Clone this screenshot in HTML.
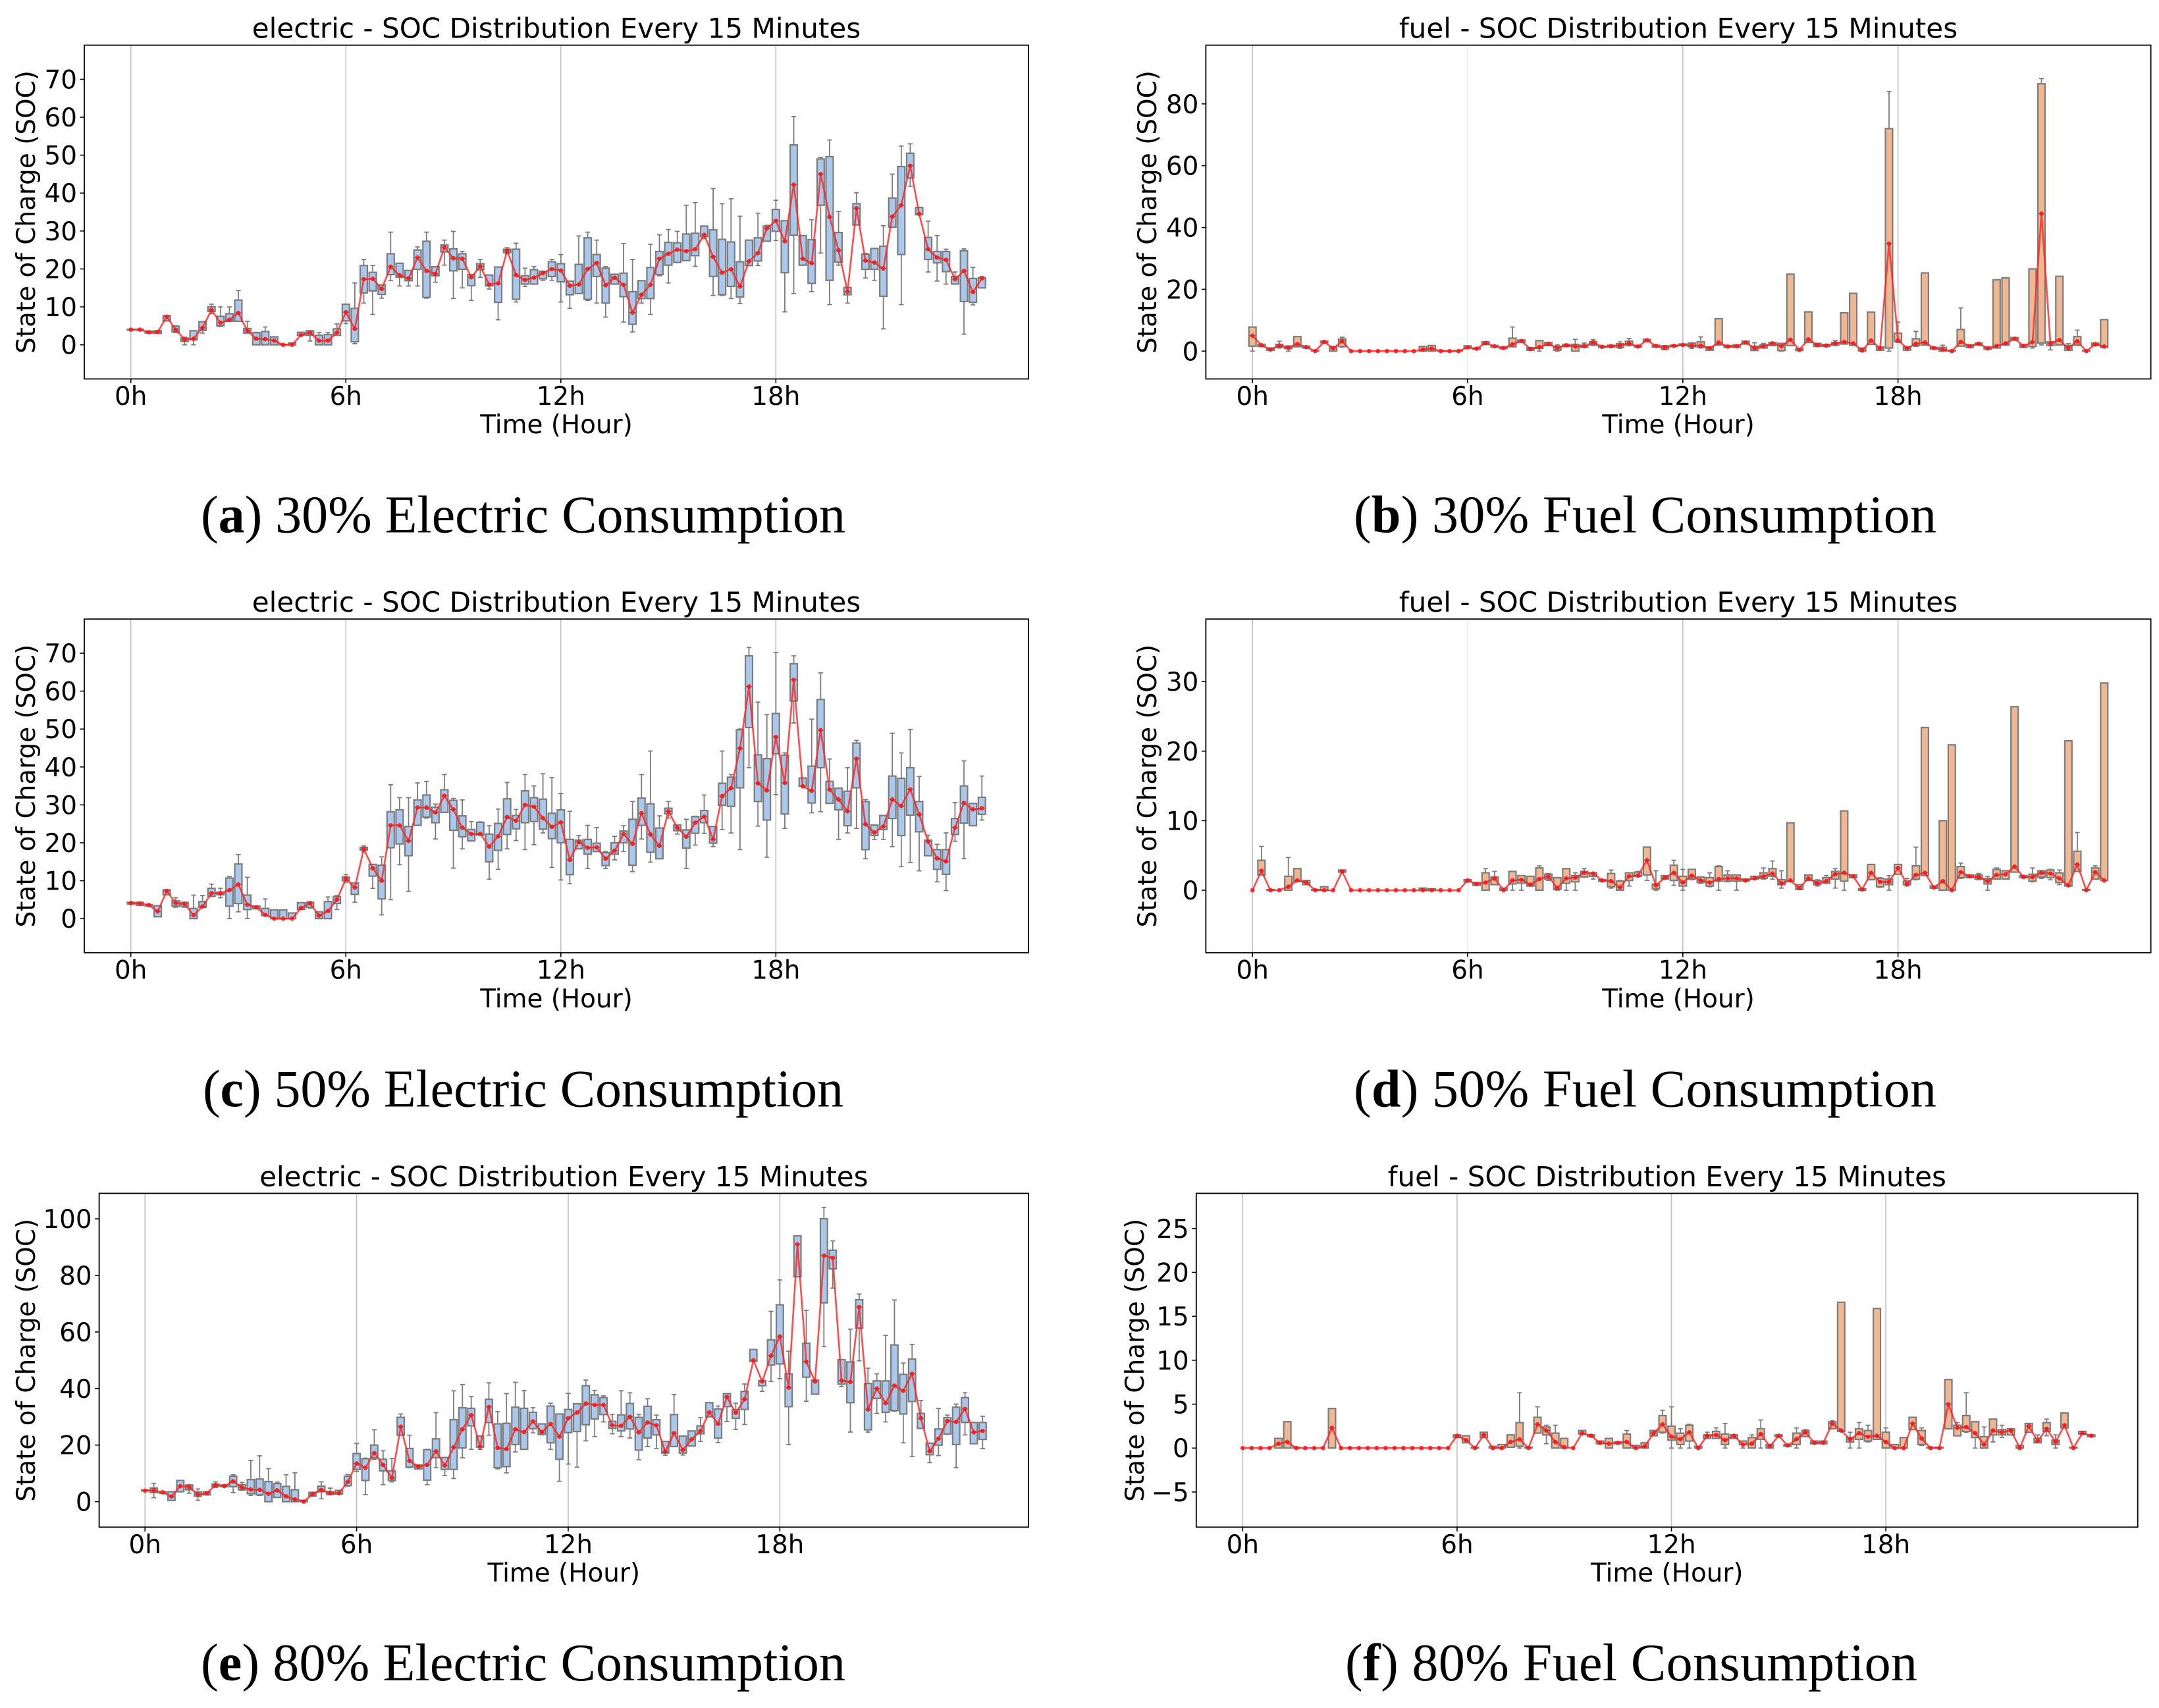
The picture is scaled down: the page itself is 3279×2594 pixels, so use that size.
<!DOCTYPE html>
<html lang="en">
<head>
<meta charset="utf-8">
<title>SOC Distribution Every 15 Minutes</title>
<style>
html,body{margin:0;padding:0;background:#fff;}
svg{display:block;}
.chart-text{font-family:"DejaVu Sans","Liberation Sans",sans-serif;font-size:38.9px;fill:#000;}
.chart-heading{font-family:"DejaVu Sans","Liberation Sans",sans-serif;font-size:42.1px;fill:#000;}
.caption{font-family:"Liberation Serif",serif;font-size:80px;fill:#000;}
.caption tspan{font-weight:bold;}
</style>
</head>
<body>
<svg id="figure" xmlns="http://www.w3.org/2000/svg" width="3279" height="2594" viewBox="0 0 3279 2594">
<rect x="0" y="0" width="3279" height="2594" fill="#ffffff"/>

<g>
<g id="plot-a"></g>
<text class="chart-heading" x="845" y="57.6" text-anchor="middle">electric - SOC Distribution Every 15 Minutes</text>
<text class="chart-text" x="845" y="658" text-anchor="middle">Time (Hour)</text>
<text class="chart-text" transform="translate(53,322) rotate(-90)" text-anchor="middle">State of Charge (SOC)</text>
<text class="caption" x="305" y="808.5" textLength="979" lengthAdjust="spacing">(<tspan>a</tspan>) 30% Electric Consumption</text>
</g>

<g>
<g id="plot-b"></g>
<text class="chart-heading" x="2549" y="57.6" text-anchor="middle">fuel - SOC Distribution Every 15 Minutes</text>
<text class="chart-text" x="2549" y="658" text-anchor="middle">Time (Hour)</text>
<text class="chart-text" transform="translate(1756,322) rotate(-90)" text-anchor="middle">State of Charge (SOC)</text>
<text class="caption" x="2056" y="808.5" textLength="885" lengthAdjust="spacing">(<tspan>b</tspan>) 30% Fuel Consumption</text>
</g>

<g>
<g id="plot-c"></g>
<text class="chart-heading" x="845" y="929.2" text-anchor="middle">electric - SOC Distribution Every 15 Minutes</text>
<text class="chart-text" x="845" y="1530" text-anchor="middle">Time (Hour)</text>
<text class="chart-text" transform="translate(53,1193.6) rotate(-90)" text-anchor="middle">State of Charge (SOC)</text>
<text class="caption" x="308" y="1680.3" textLength="973" lengthAdjust="spacing">(<tspan>c</tspan>) 50% Electric Consumption</text>
</g>

<g>
<g id="plot-d"></g>
<text class="chart-heading" x="2549" y="929.2" text-anchor="middle">fuel - SOC Distribution Every 15 Minutes</text>
<text class="chart-text" x="2549" y="1530" text-anchor="middle">Time (Hour)</text>
<text class="chart-text" transform="translate(1756,1193.6) rotate(-90)" text-anchor="middle">State of Charge (SOC)</text>
<text class="caption" x="2056" y="1680.3" textLength="885" lengthAdjust="spacing">(<tspan>d</tspan>) 50% Fuel Consumption</text>
</g>

<g>
<g id="plot-e"></g>
<text class="chart-heading" x="856.3" y="1801.4" text-anchor="middle">electric - SOC Distribution Every 15 Minutes</text>
<text class="chart-text" x="856.3" y="2402" text-anchor="middle">Time (Hour)</text>
<text class="chart-text" transform="translate(53,2065.8) rotate(-90)" text-anchor="middle">State of Charge (SOC)</text>
<text class="caption" x="305" y="2552.2" textLength="979" lengthAdjust="spacing">(<tspan>e</tspan>) 80% Electric Consumption</text>
</g>

<g>
<g id="plot-f"></g>
<text class="chart-heading" x="2531.8" y="1801.4" text-anchor="middle">fuel - SOC Distribution Every 15 Minutes</text>
<text class="chart-text" x="2531.8" y="2402" text-anchor="middle">Time (Hour)</text>
<text class="chart-text" transform="translate(1737,2065.8) rotate(-90)" text-anchor="middle">State of Charge (SOC)</text>
<text class="caption" x="2043" y="2552.2" textLength="869" lengthAdjust="spacing">(<tspan>f</tspan>) 80% Fuel Consumption</text>
</g>
</svg>

<script>
const xTickHours = [0, 6, 12, 18];
const xTickLabels = ['0h', '6h', '12h', '18h'];
const elec30YTicks = [0, 10, 20, 30, 40, 50, 60, 70];
const fuel30YTicks = [0, 20, 40, 60, 80];
const elec50YTicks = [0, 10, 20, 30, 40, 50, 60, 70];
const fuel50YTicks = [0, 10, 20, 30];
const elec80YTicks = [0, 20, 40, 60, 80, 100];
const fuel80YTicks = [-5, 0, 5, 10, 15, 20, 25];

const elec30Median = [4.0,4.0,3.3,3.4,7.4,4.0,1.4,1.6,4.5,9.2,
5.8,6.6,8.4,3.7,1.6,1.5,1.1,0,0,2.6,
3.2,1.1,1.1,3.2,8.6,4.2,17.3,17.4,14.7,20.6,
18.3,17.5,23,19.5,18.7,25.7,22.8,22.7,17.8,20.7,
15.9,16.2,24.8,18.4,17.1,17.7,18.9,20,19.6,15.6,
15.9,20,21.6,15.7,17.7,15.8,8.5,13.2,15.8,22.7,
24,25.1,24.7,25.2,29,23.2,19,19.9,15.4,22,
24.2,30.7,32.7,27.3,42.2,22.7,21.5,45,33.7,24.9,
14,36,22.2,21.7,20.1,33.8,36.8,47.2,34.5,25.2,
23,22.4,17.3,19.5,13.9,17.5];
const elec30Q1 = [3.9,3.9,3.1,3,6.3,3.4,0.9,1.3,3.8,8.8,
5,6.2,6.2,3.1,0,0,0,0,0,2.5,
2.5,0,0,2.5,6.3,0.8,13.7,14.2,13.3,18.5,
17.8,16.9,19.9,12.5,18.2,24.5,19.5,19.9,15.6,19.8,
15.5,11.2,24.3,12,16,16,17.4,18,16.6,13.2,
13.5,12,18,11,16,12.7,5.4,12.2,12.2,18.5,
21,21.7,22.2,23.5,28.5,18,13.2,15.4,12.6,20.9,
22.1,27.3,29.9,19,28.9,21,16.2,36.8,17,21.8,
13.2,31.6,19.9,19.9,12.8,31,23.8,44,34.3,22.5,
21.6,19.3,16,11.4,11.2,15];
const elec30Q3 = [4.1,4.1,3.6,3.7,7.7,4.9,1.8,3.7,6.1,10,
7.5,8.2,11.8,4.3,3.2,3.5,2.1,0.1,0.5,3.3,
3.7,2.5,2.7,4.2,10.7,9.6,20.9,19.1,15.8,24,
21.5,19.6,25,27.3,20.6,26.3,25.3,24,18.5,21.4,
18.4,20.5,25.2,25.2,18.2,19.8,19.4,21.9,21.4,16.8,
21.2,28.2,23.8,20.2,18.6,18.9,14,16.9,20.4,24.6,
27,26.9,29.2,29.4,31.3,30.3,27.8,27.1,21.9,27.6,
28.2,31.3,35.7,32.7,52.7,28.8,27.7,49,49.6,29.6,
15.1,37.2,23.9,25.4,26,38.7,47,50.5,36.2,28.3,
24.6,24.6,18,24.8,17.5,17.7];
const elec30Low = [3.9,3.9,3.1,3,6.3,3.2,0,0,3.1,8.2,
4.8,6.2,6.2,3.1,0,0,0,0,0,2.5,
1,0,0,2.5,5.6,0.3,11,8,12.3,16.9,
15.5,15.5,15.5,12.3,16.5,21,12.2,15,11.7,17.8,
14.7,6.6,24,11.3,15.4,16,17,17,11.3,9.6,
13.5,11.7,11,7.3,16,6,3.4,11,8,18.2,
16.3,21.7,22.2,20.7,28,13,13,12.2,10.9,20.9,
20.9,27.3,27.5,8.7,13.5,21,14,24.2,10.6,21,
11,31.6,17.6,17,4.2,31,10.6,41.8,34.3,19.2,
16.8,16,16,2.8,10.5,15];
const elec30High = [4.1,4.1,3.6,3.7,7.7,5,2,3.7,6.1,10.7,
10,10,14.3,6.2,3.3,4.7,2.1,0.1,0.5,3.3,
3.7,3.2,3.2,5.5,10.7,16.3,22.5,20.9,15.8,29.7,
21.5,19.6,25.8,29.7,20.6,27.6,29.9,24.6,18.5,22.5,
18.4,20.5,25.6,26.8,20.2,20.6,19.4,22.5,23.8,16.8,
28.7,29.7,27.6,20.6,18.6,26.7,22.5,16.9,26.5,29,
30.4,29.9,36.8,37.5,31.3,41.2,37.2,38.5,33.9,27.6,
34.7,31.5,38.1,32.7,60.2,28.8,33,49.4,54,35.2,
15.1,40.1,24.1,25.4,31.4,45,52.4,53,36.2,32.6,
28.8,25.2,19.2,25.3,20.4,18];

const fuel30Median = [5,1.9,0.5,1.8,1.1,2.3,1.3,0,3,0.9,
3.2,0,0,0,0,0,0,0,0,0.5,
0.8,0,0,0,1.2,0.8,2.6,1.6,1,2.2,
3.3,0.7,1.3,2.3,1,1.9,1.5,1.6,2.8,1.4,
1.6,1.8,2.5,1.5,3.5,1.7,1.2,1.7,2,1.8,
1.8,0.9,2.8,1.5,1.6,2.8,0.9,1.6,2.5,1.6,
3.7,0.4,3.8,2,1.8,2.5,3,2.5,0.2,3.4,
0.9,34.8,3.5,0.9,2.4,2.8,1,0.5,0,3,
1.6,2.4,0.9,1.7,2.5,4,1.7,2.9,44.5,2.4,
3.6,1,3.2,0,2.2,1.5];
const fuel30Q1 = [1.6,1.5,0.3,1.3,0.8,1.4,1,0,2.7,0,
1.5,0,0,0,0,0,0,0,0,0,
0,0,0,0,1,0.6,2.2,1.3,0.8,1.4,
2.9,0.3,0.9,1.8,0.3,1.5,0,1.2,2,1.2,
1.3,1.2,1.9,1.3,3.1,1.3,0.6,1.5,1.8,1.4,
1.2,0.3,2,1.2,1.2,2.3,0.2,1,1.8,0.2,
1.8,0.2,2.8,1.5,1.5,2,2.3,1.9,0,2.2,
0.3,1,3,0.3,1.8,2,0.7,0,0,1.6,
1.2,2,0.6,1,2,3.6,1.2,1.5,2.6,1.8,
2,0.3,2,0,1.8,1.2];
const fuel30Q3 = [7.8,2.2,1,2.2,1.6,4.7,1.6,0.2,3.2,1.5,
3.9,0,0,0,0,0,0,0,0,1.5,
1.8,0.2,0.1,0.2,1.7,1,3,1.8,1.3,4.2,
3.6,1.1,3.4,2.8,1.6,2.2,2.2,1.9,3.1,1.6,
1.9,2.4,3.2,1.7,3.8,1.9,1.7,1.9,2.3,2.6,
3,1.4,10.5,1.8,2,3.2,1.6,2,2.8,2.5,
24.9,0.8,12.7,2.5,2.1,2.8,12.4,18.7,1,12.6,
1.4,72,5.8,1.4,4,25.3,1.2,1.2,0.2,7,
2,2.6,1.3,23.1,23.7,4.4,2,26.6,86.5,3,
24.2,1.8,4.7,0.2,2.6,10.2];
const fuel30Low = [0,1.5,0.3,1,0,1.4,1,0,2.7,0,
1.3,0,0,0,0,0,0,0,0,0,
0,0,0,0,1,0.6,2.2,1.3,0.8,1.4,
2.9,0.3,0,1.8,0,1.5,0,1.2,1.8,1.2,
1.3,0.9,1.7,1.3,3.1,1.3,0.4,1.5,1.8,0.9,
1,0.3,2,1.2,1.2,2.3,0.2,1,1.8,0,
1.8,0.2,2.8,1.5,1.5,1.8,2.3,1.9,0,2.2,
0.3,0,2.8,0.3,1.5,2,0.7,0,0,1.6,
1.2,2,0.6,1,2,3.6,1.2,1,2,0.4,
2,0.2,1.8,0,1.8,1.2];
const fuel30High = [7.8,2.2,1,3.2,1.7,4.7,1.6,0.2,3.2,1.5,
4.5,0,0,0,0,0,0,0,0,1.5,
1.8,0.2,0.1,0.2,1.7,1,3,1.8,1.3,7.8,
3.6,1.1,3.4,2.8,2,2.2,3.8,2.6,3.7,1.6,
1.9,3,4.1,1.7,3.8,1.9,1.8,1.9,2.3,2.7,
4.6,1.4,10.5,1.8,2,3.2,2.7,2.5,2.8,2.5,
24.9,0.8,12.7,2.5,2.1,3.4,12.4,18.7,1,12.6,
1.4,84,9.4,1.4,6.4,25.3,1.2,1.9,0.2,14,
2,2.6,1.3,23.1,23.7,4.4,2,26.6,88.2,3,
24.2,2.4,6.8,0.2,2.6,10.2];

const elec50Median = [4.1,4,3.6,1.9,7.3,4.1,3.9,0.9,3.2,6.7,
6.7,7.5,9,3.7,3,1,0,0,0,2.8,
4,0.8,2,5,10.5,8.2,18.4,13.3,10,24.6,
24.6,20.5,29.3,29.3,28,32.4,28.8,24,22.3,22.4,
19,21.7,26.8,25.8,30,29.5,26.5,24.2,25.4,15.5,
20.2,18.7,18.8,15.8,17.9,22.3,19.7,27.8,22.2,19.2,
28.3,24,21.6,25.3,26.9,20.9,32.3,34.4,44.9,61.2,
35.7,33.8,47.9,35.8,63,34.9,33.7,49.7,34,31.4,
28.3,42.2,24.9,22.7,24.3,31.4,29.7,34.1,27.5,20.3,
15.9,15.1,24,30.5,28.8,29.1];
const elec50Q1 = [3.9,3.5,3.3,0.5,6.3,3.3,3.2,0,3,5.9,
6.3,3.3,4,2.4,2.6,0.8,0,0,0,2.4,
3,0,0,4,10,6.4,18.1,11.2,5.2,18.7,
19.7,16.6,24.6,26.8,25.3,28,23.3,21.6,20.5,22,
15,18,22.2,23.7,25.3,25.6,23.6,21.1,20,11.6,
18.4,17,17.7,14,17,20,14.1,24.6,17.5,15.8,
27.6,23.2,18.6,22.5,25.3,19.9,29.9,29.6,34.5,50.4,
30.9,26,43.5,27.6,57.4,34.9,30.5,39.8,30.4,28.7,
24.5,34.5,18.2,21.9,23.5,26.4,21.9,27.3,22.9,16.6,
13,11.7,22.2,25.2,24.5,27.5];
const elec50Q3 = [4.3,4.3,3.7,3.4,7.6,4.7,4.3,2.7,4.5,8,
7,10.7,14.4,6.2,3.3,2.7,2.3,2.3,1.5,4.2,
4.3,1.8,4.5,5.8,11,9.4,18.8,14.3,14.1,28.2,
28.7,24.3,31.3,32.6,29.4,34,31.2,27.1,23.5,25.4,
22.3,25.1,31.6,27.2,33.7,31.9,31.5,27.8,28.7,20.9,
20.7,20.9,19.9,17.4,20,23.1,26.2,31.8,30.3,23.9,
29.1,24.7,23.4,26.9,28.5,24.3,35.7,37.3,49.8,69.3,
43.2,42.2,54.1,43.1,67.2,37.1,40.2,57.8,36.2,34.4,
33.6,46.3,30.9,24.7,27.2,37.6,37,39.8,30.9,20.7,
18.2,18.2,26.4,35,30.4,32];
const elec50Low = [3.9,3.5,3.3,0.5,6.3,3,3,0,3,5.8,
5.5,0,1.8,0,2.6,0.8,0,0,0,2.4,
2.8,0,0,2.4,9.6,4.3,17.6,8,1,5,
14.2,7.2,24.6,26.5,21,28,13.3,18.4,20.5,22,
10.4,13,18.4,20.6,18.2,19.5,22.6,13.5,10.2,9.2,
18.4,13.2,17.7,13.2,15.5,17.7,12.4,21,14.9,15.8,
26.5,22.3,13.2,19.4,22.5,19,23.5,22.6,18.2,39.8,
24.4,16.2,32.7,23.8,51.6,34.9,27.9,28.2,30.4,20.9,
22.6,23.8,15.8,20.9,20.9,19,13.7,14.8,12.6,16.6,
9.7,7.4,20.4,15.8,24.5,26];
const elec50High = [4.3,4.3,3.7,3.4,7.6,5.5,4.3,6.2,6.1,9.1,
8,11.1,16.9,10.9,3.3,5.2,2.3,2.3,1.5,4.2,
4.5,1.8,5.7,6.1,11.6,9.4,19.2,14.3,16.3,35.3,
31.9,31.9,35.8,36.2,30.2,38,31.7,31.3,25.6,25.5,
24.5,28.9,35.9,28.8,38,35,38.2,37.2,33,28.3,
21.9,24.6,24,17.7,21.7,24.5,30.9,38,44.2,27.1,
30.9,24.7,26.2,27,32.6,24.3,44.2,38,50,71.5,
57.1,53.8,70.2,43.7,69.3,37.1,52.6,64.8,42.1,34.4,
39.8,47,31.4,24.7,27.2,48.9,43.7,49.9,37.5,22,
19.6,22.6,30.6,41.6,30.4,37.6];

const fuel50Median = [0,2.8,0,0,0.5,1.4,1.1,0,0,0,
2.7,0,0,0,0,0,0,0,0,0,
0,0,0,0,1.4,0.9,1.1,1.7,0,1.4,
1.5,0.8,1.6,2,0.3,1.7,1.8,2.5,2.4,1.4,
1.3,0.4,2,2.1,4.3,0.7,1.8,2.5,1.1,2.1,
1.4,1.1,1.6,1.7,1.7,1.4,1.7,2,2.4,1,
1.4,0.3,1.7,1,1.3,2.3,2.5,2,0.1,2.5,
1.2,1.2,3.2,0.9,2.2,2.5,0.4,1.3,0,2.6,
2,1.9,1.3,2.2,2.3,3.4,1.9,1.9,2.5,2.4,
1.7,0.7,3.7,0,2.6,1.4];
const fuel50Q1 = [0,2.2,0,0,0,1.3,0.8,0,0,0,
2.6,0,0,0,0,0,0,0,0,0,
0,0,0,0,1.2,0.7,0,0.8,0,0.9,
1,0.6,0,1.6,0.1,1,1.2,1.9,2,1.3,
0.5,0,1.4,2,2.2,0.2,1.6,1.4,0.6,1.6,
1.1,0.6,1.3,1.3,1.3,1.3,1.6,1.7,2,0.8,
1.3,0.1,1.4,0.8,1,1.6,1.3,1.8,0,1.5,
0.5,0.8,2.3,0.8,1.6,2.1,0.3,0,0,1.8,
1.8,1.6,0.9,1.6,1.6,2.6,1.8,1.3,1.9,1.8,
1.1,0.6,2.7,0,1.6,1.4];
const fuel50Q3 = [0,4.3,0.1,0,2,3.1,1.4,0.1,0.5,0,
2.9,0,0,0,0,0,0,0,0,0.3,
0.2,0,0,0,1.5,1.1,2.5,1.9,0.3,2.7,
2.1,2,3.2,2.3,1.8,3.1,2.1,2.7,2.5,1.5,
2.4,1.3,2.5,2.6,6.2,0.9,2.1,3.6,2,3,
1.9,1.8,3.4,2.2,2.2,1.6,2,2.5,3.1,1.5,
9.7,0.8,2.2,1.4,1.8,2.7,11.4,2.2,0.2,3.7,
1.7,1.6,3.7,1.3,3.5,23.4,0.6,10,20.9,3.4,
2.2,2.2,1.7,3,2.8,26.4,2.1,2.3,2.8,2.9,
2.5,21.5,5.6,0.1,3.2,29.8];
const fuel50Low = [0,2.2,0,0,0,1.3,0.8,0,0,0,
2.6,0,0,0,0,0,0,0,0,0,
0,0,0,0,1.2,0.7,0,0.8,0,0,
0,0.6,0,1.4,0,0,0,1.9,1.6,1.3,
0.3,0,0.6,2,1.4,0,1.6,0.7,0,1.5,
1,0.5,0,1.2,0,1.3,1.6,1.6,1.6,0.3,
1.3,0.1,1.4,0.6,1,0.3,0,1.8,0,1.5,
0.4,0,2.3,0.6,1.5,2.1,0.3,0,0,1.7,
1.8,1.5,0,1.6,1.6,2.6,1.8,1.2,1.7,1.5,
0.8,0.6,2.7,0,1.6,1.4];
const fuel50High = [0,6.3,0.1,0,4.7,3.1,1.4,0.1,0.5,0,
2.9,0,0,0,0,0,0,0,0,0.3,
0.2,0,0,0,1.5,1.1,3.1,2.7,0.3,2.7,
2.1,2,3.5,2.4,1.8,3.1,2.5,3.1,2.5,1.5,
2.9,1.4,2.5,2.7,6.2,2.8,2.1,4.3,3,3,
1.9,2.5,3.5,2.8,2.2,1.6,2,3.2,4.2,2.8,
9.7,0.8,2.2,1.5,2.1,3.1,11.4,2.2,0.2,3.7,
1.8,2.1,3.7,1.7,6.2,23.4,0.6,10,20.9,3.9,
2.2,2.4,2,3.2,2.8,26.4,2.1,3.2,2.8,3,
2.9,21.5,8.3,0.1,3.5,29.8];

const elec80Median = [3.9,4,3.3,1.8,5.5,5.2,2.5,3,5.9,5.5,
7.2,5,4.3,4.2,2.8,4,1.9,0.8,0,2.7,
4.2,3,3,7,13.5,12,17.2,13,8.4,26.5,
14.4,12.4,13,17.8,12.8,19.2,25.6,30.6,19.5,33.5,
19,18.6,25.6,24.6,28.4,24.6,27.5,23,29.5,31.5,
34.7,34.2,34.2,27,26.8,30,24.5,28,27,17.7,
24.2,18.3,22,25,31.6,27.5,37,31.4,36.2,50,
42.5,51.6,58.4,40.3,91,49.5,42.5,87,86.2,42.8,
42.3,68.8,32.6,40,34.8,41,39.2,45.2,29.5,17.8,
22.3,28.5,28.2,32.8,24.5,25];
const elec80Q1 = [3.8,3.2,3,0.4,3.5,4.2,1.9,2.4,5.4,5.3,
5.3,4.2,2.8,2.4,0,1.5,0,0,0,2,
3.5,2.5,2.7,5.7,11.4,7.5,15.5,10.9,7.5,23.5,
12.2,11.6,7.6,15.6,11.4,11.4,19,26.8,19.3,28,
12,12.4,20.2,18.5,25.8,23.8,20.8,15,24.4,24.8,
27.2,29.2,30.8,25.9,25,25.7,18.2,22.5,23.6,17.2,
19.5,17.2,19.7,24,30,22.5,33.6,29.5,32.6,49.6,
41,48.3,48.7,33.6,79.5,44,38,70.3,82.3,41.6,
35,61.4,25.4,36.5,31.6,32.2,31,35.4,25.9,16.6,
20,23.9,20.2,28,20.5,22];
const elec80Q3 = [4.1,4.8,3.5,3.5,7.5,5.9,3.4,3.5,6.2,5.9,
9,6,7.8,8,7.1,6.4,5.4,4.2,0.5,3.3,
5.5,3.6,4,9,17,15.2,20,15,10.9,29.8,
18.8,13,18.4,22.2,15.6,29,33.2,33,23.2,36.2,
27.5,27.7,33.4,33,31.6,27.5,33.8,31,32.6,34.6,
41,37.8,36.8,28.4,30.7,34.7,29.8,33.7,29,21.3,
30.8,23.2,25,26.8,35,32.8,38.2,32.5,39,53.8,
42.8,57.2,69.6,45.2,94,56,43,100,88.9,50.2,
49.4,71.4,41.8,42.7,42.7,55.4,45,50.4,31.2,20.7,
25.7,29.7,33.4,36.8,28,28];
const elec80Low = [3.8,1.4,3,0.4,3.5,3,0.5,2.4,5,5.3,
3.2,4,2.2,2.2,0,1.5,0,0,0,2,
1,2.5,2.7,5.5,10.7,2.5,15,6,7,23.5,
12,11.6,6,12,9.2,8.2,15.5,18.5,18.5,23.5,
11.6,10.2,17.6,18.5,24.3,23.6,18.5,7.2,13.3,12.2,
21.5,23,28.2,24,23,22.5,14.8,19.5,18.8,16.4,
19.5,16.5,19.7,21.3,30,20.9,28.3,25.5,27.3,49.6,
39,42.5,43.5,20.2,79.5,35.5,38,54.8,75.5,40.7,
24.6,49.8,24.6,31.2,28.2,32,20.8,16,25.9,13.8,
16.3,23.9,12,23.6,20.5,18.8];
const elec80High = [4.1,6.5,3.5,3.5,7.5,6,4.5,3.5,7,5.9,
9.5,6.8,14.6,16.2,11.7,6.9,9.5,10.2,0.5,3.3,
7,4.8,4,9.6,20.6,15.4,25.4,18,15.3,31,
23.5,13,18.5,31.5,15.6,39.2,41.4,37.2,23.2,42,
31.8,38.2,42.2,39.3,33.2,27.5,34.8,31,38.3,34.6,
43,39.3,37.4,30.8,39.2,38.5,30.8,36.4,30.6,21.3,
37.9,23.2,25,29.7,35,33.8,38.2,34.8,41.6,53.8,
42.8,67.3,78.4,53.2,94,67.6,43,104,92.2,50.2,
61,73.4,47.2,45.2,58.8,71.3,49,55.6,35.8,20.7,
33,30.6,34.5,38.5,28,30.2];

const fuel80Median = [0,0,0,0,0.5,0.7,0,0,0,0,
2.3,0,0,0,0,0,0,0,0,0,
0,0,0,0,1.4,0.9,0,1.5,0,0,
0.7,1,0,2.7,2,0.7,0.1,0,1.7,1.4,
0.6,0.5,0.6,0.7,0,0.2,1.7,2.7,1.3,1,
1.8,0,1.4,1.5,0.9,1.4,0.4,0.5,1.6,0.2,
1.4,0.3,1,1.8,0.6,0.6,2.8,2,1,1.7,
1.3,1.4,0.7,0,0,2.8,1.1,0,0,5,
2.3,2.4,1.7,0.4,2,1.8,2,0,2.5,0.8,
2.2,0.7,2.6,0,1.7,1.4];
const fuel80Q1 = [0,0,0,0,0,0,0,0,0,0,
0,0,0,0,0,0,0,0,0,0,
0,0,0,0,1.2,0.6,0,1.2,0,0,
0.1,0.2,0,1.7,1.5,0,0,0,1.6,1.3,
0.5,0,0.5,0,0,0,1.4,1.8,0.9,0.4,
0.8,0,1.1,1.1,0.4,1.1,0.4,0,1,0,
1.3,0.2,0.4,1.3,0.5,0.5,2.2,1.9,0.7,1,
0.8,1,0,0,0,2.1,0.4,0,0,2.2,
1.4,1.9,1.2,0,1.5,1.5,1.5,0,1.8,0.6,
1.9,0.4,2.3,0,1.6,1.3];
const fuel80Q3 = [0,0,0,0,1.1,3,0.1,0,0,0,
4.5,0,0,0,0,0,0,0,0,0,
0,0,0,0,1.5,1.4,0.1,1.8,0.2,0.4,
1.5,2.9,0.1,3.5,2.4,1.7,1.1,0,2,1.5,
0.8,1.1,0.7,1.6,0.3,0.6,2,3.7,2.5,1.7,
2.6,0.2,1.5,1.9,1.6,1.5,0.8,1.2,2.2,0.4,
1.5,0.4,1.7,2,0.8,0.8,3,16.6,1.2,2.2,
2,15.9,1.8,0.4,1.2,3.5,2,0.1,0.1,7.8,
2.6,3.7,3,1.3,3.3,2.1,2.2,0.3,2.8,1.1,
2.9,0.9,4,0.1,1.9,1.5];
const fuel80Low = [0,0,0,0,0,0,0,0,0,0,
0,0,0,0,0,0,0,0,0,0,
0,0,0,0,1.2,0.6,0,1.2,0,0,
0.1,0,0,1.7,0.5,0,0,0,1.6,1.3,
0.5,0,0.5,0,0,0,1.4,1.7,0,0,
0,0,1.1,1.1,0,1.1,0,0,0,0,
1.3,0.2,0,1.3,0.5,0.5,2.2,1.9,0,0,
0.7,1,0,0,0,2.1,0.3,0,0,2.2,
1.4,1.8,0,0,0.7,1.2,1.5,0,1.8,0.6,
1.4,0,2.3,0,1.6,1.3];
const fuel80High = [0,0,0,0,1.1,3,0.1,0,0,0,
4.5,0,0,0,0,0,0,0,0,0,
0,0,0,0,1.5,1.4,0.1,1.8,0.2,0.4,
1.5,6.3,0.1,4.7,2.6,2.6,1.1,0,2,1.5,
0.8,1.1,0.7,2,0.3,0.6,2,4.3,4.7,2.2,
2.7,0.2,1.8,2.3,2.8,1.5,0.8,1.5,3.2,0.4,
1.5,0.4,2.3,2.1,0.8,0.8,3.1,16.6,1.8,2.9,
2.6,15.9,2.3,0.4,1.2,3.5,2.3,0.1,0.1,7.8,
2.9,6.3,3,2.4,3.3,2.6,2.2,0.3,2.8,1.5,
3.3,1.5,4,0.1,1.9,1.5];

const panels = [
  {id:'a', fill:'#a9c8eb', left:128,    right:1562,   top:68.6,  bottom:575.5,  yMax:79,  yTicks:elec30YTicks, faintSix:false, median:elec30Median, q1:elec30Q1, q3:elec30Q3, low:elec30Low, high:elec30High},
  {id:'b', fill:'#efb893', left:1831.4, right:3266.6, top:68.6,  bottom:575.5,  yMax:99,  yTicks:fuel30YTicks, faintSix:true,  median:fuel30Median, q1:fuel30Q1, q3:fuel30Q3, low:fuel30Low, high:fuel30High},
  {id:'c', fill:'#a9c8eb', left:128,    right:1562,   top:940.2, bottom:1447,   yMax:79,  yTicks:elec50YTicks, faintSix:false, median:elec50Median, q1:elec50Q1, q3:elec50Q3, low:elec50Low, high:elec50High},
  {id:'d', fill:'#efb893', left:1831.4, right:3266.6, top:940.2, bottom:1447,   yMax:39,  yTicks:fuel50YTicks, faintSix:true,  median:fuel50Median, q1:fuel50Q1, q3:fuel50Q3, low:fuel50Low, high:fuel50High},
  {id:'e', fill:'#a9c8eb', left:150.6,  right:1562,   top:1812.4,bottom:2319.3, yMax:109, yTicks:elec80YTicks, faintSix:false, median:elec80Median, q1:elec80Q1, q3:elec80Q3, low:elec80Low, high:elec80High},
  {id:'f', fill:'#efb893', left:1816.8, right:3246.7, top:1812.4,bottom:2319.3, yMax:29,  yTicks:fuel80YTicks, faintSix:false, median:fuel80Median, q1:fuel80Q1, q3:fuel80Q3, low:fuel80Low, high:fuel80High}
];

const SVG_NS = 'http://www.w3.org/2000/svg';
const X_MIN = -5.2, X_MAX = 100.2, Y_MIN = -9;
const GRAY = '#7c7c7c';

function make(tag, parent, attrs) {
  const node = document.createElementNS(SVG_NS, tag);
  for (const key in attrs) node.setAttribute(key, attrs[key]);
  parent.appendChild(node);
  return node;
}

function drawPanel(p) {
  const root = document.getElementById('plot-' + p.id);
  const xScale = i => p.left + (i - X_MIN) / (X_MAX - X_MIN) * (p.right - p.left);
  const yScale = v => p.bottom - (v - Y_MIN) / (p.yMax - Y_MIN) * (p.bottom - p.top);
  const step = xScale(1) - xScale(0);
  const boxWidth = step * 0.8;
  const capHalf = 3.6;

  xTickHours.forEach((hour, t) => {
    const x = xScale(hour * 4);
    const faint = p.faintSix && hour === 6;
    const grid = make('line', root, {x1:x, x2:x, y1:p.top, y2:p.bottom, stroke: faint ? '#ececec' : '#c0c0c0', 'stroke-width': faint ? 1.5 : 1.6});
    
    
    const tick = make('line', root, {x1:x, x2:x, y1:p.bottom, y2:p.bottom + 6.5, stroke:'#000', 'stroke-width':1.6});
    
    
    const label = make('text', root, {x:x, y:p.bottom + 39.5, 'text-anchor':'middle', class:'chart-text'});
    
    
    label.textContent = xTickLabels[t];
  });

  p.yTicks.forEach(value => {
    const y = yScale(value);
    const tick = make('line', root, {x1:p.left - 6.5, x2:p.left, y1:y, y2:y, stroke:'#000', 'stroke-width':1.6});
    
    
    const label = make('text', root, {x:p.left - 11, y:y + 14, 'text-anchor':'end', class:'chart-text'});
    
    
    label.textContent = String(value).replace('-', '\u2212');
  });

  p.median.forEach((value, i) => {
    const x = xScale(i);
    if (p.high[i] > p.q3[i]) {
      const upper = make('line', root, {x1:x, x2:x, y1:yScale(p.q3[i]), y2:yScale(p.high[i]), stroke:GRAY, 'stroke-width':1.8});
      
      
      const upperCap = make('line', root, {x1:x - capHalf, x2:x + capHalf, y1:yScale(p.high[i]), y2:yScale(p.high[i]), stroke:GRAY, 'stroke-width':1.8});
      
      
    }
    if (p.low[i] < p.q1[i]) {
      const lower = make('line', root, {x1:x, x2:x, y1:yScale(p.q1[i]), y2:yScale(p.low[i]), stroke:GRAY, 'stroke-width':1.8});
      
      
      const lowerCap = make('line', root, {x1:x - capHalf, x2:x + capHalf, y1:yScale(p.low[i]), y2:yScale(p.low[i]), stroke:GRAY, 'stroke-width':1.8});
      
      
    }
    if (p.q3[i] > p.q1[i]) {
      const box = make('rect', root, {x:x - boxWidth / 2, y:yScale(p.q3[i]), width:boxWidth, height:yScale(p.q1[i]) - yScale(p.q3[i]), fill:p.fill, stroke:GRAY, 'stroke-width':2.2});
      
      
      const mid = make('line', root, {x1:x - boxWidth / 2, x2:x + boxWidth / 2, y1:yScale(value), y2:yScale(value), stroke:GRAY, 'stroke-width':1.6});
      
      
    }
  });

  const points = p.median.map((value, i) => xScale(i).toFixed(1) + ',' + yScale(value).toFixed(1)).join(' ');
  const line = make('polyline', root, {points:points, fill:'none', stroke:'#ff2020', 'stroke-opacity':0.8, 'stroke-width':2.6, 'stroke-linejoin':'round'});
  
  

  p.median.forEach((value, i) => {
    const dot = make('circle', root, {cx:xScale(i), cy:yScale(value), r:3.4, fill:'#ff1515', 'fill-opacity':0.85});
    
    
  });

  const frame = make('rect', root, {x:p.left, y:p.top, width:p.right - p.left, height:p.bottom - p.top, fill:'none', stroke:'#000', 'stroke-width':1.8});
  
  
}

panels.forEach(drawPanel);
</script>
</body>
</html>
